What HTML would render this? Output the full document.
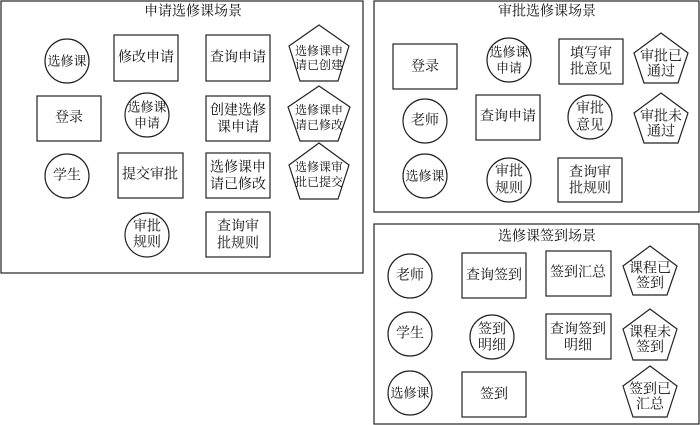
<!DOCTYPE html>
<html><head><meta charset="utf-8"><style>
html,body{margin:0;padding:0;background:#fff;}
svg{display:block;}
text{font-family:"Liberation Serif","Noto Serif CJK SC",serif;font-size:14px;fill:#111;text-anchor:middle;dominant-baseline:central;}
.p{font-size:12px;}
.c{font-size:13px;}
rect,circle,polygon{fill:#fff;stroke:#222;stroke-width:1.2;}
</style></head><body>
<svg width="700" height="425" viewBox="0 0 700 425">
<rect x="1" y="1" width="362" height="272"/>
<text x="193" y="12">申请选修课场景</text>
<circle cx="67" cy="61" r="22"/><text class="c" x="67" y="61">选修课</text>
<rect x="114" y="35" width="64" height="46"/><text x="146" y="58">修改申请</text>
<rect x="206" y="35" width="64" height="46"/><text x="238" y="58">查询申请</text>
<polygon points="319,25 349,46 338,81 300,81 289,46"/><text class="p" x="319" y="51">选修课申</text><text class="p" x="319" y="65">请已创建</text>
<rect x="37" y="96" width="64" height="45"/><text x="69" y="118">登录</text>
<circle cx="147" cy="115" r="22"/><text class="c" x="147" y="107">选修课</text><text class="c" x="147" y="123">申请</text>
<rect x="206" y="96" width="64" height="45"/><text x="238" y="111">创建选修</text><text x="238" y="128">课申请</text>
<polygon points="319,86 350,107 338,141 300,141 288,107"/><text class="p" x="319" y="110">选修课申</text><text class="p" x="319" y="125">请已修改</text>
<circle cx="67" cy="176" r="22"/><text x="67" y="176">学生</text>
<rect x="118" y="153" width="65" height="45"/><text x="150" y="175">提交审批</text>
<rect x="206" y="153" width="64" height="45"/><text x="238" y="168">选修课申</text><text x="238" y="185">请已修改</text>
<polygon points="319,143 349,165 338,199 300,199 289,165"/><text class="p" x="319" y="167">选修课审</text><text class="p" x="319" y="182">批已提交</text>
<circle cx="147" cy="235" r="22"/><text x="147" y="227">审批</text><text x="147" y="243">规则</text>
<rect x="206" y="212" width="64" height="45"/><text x="238" y="227">查询审</text><text x="238" y="244">批规则</text>

<rect x="374" y="1" width="325" height="211"/>
<text x="547" y="12">审批选修课场景</text>
<rect x="393" y="44" width="64" height="45"/><text x="425" y="67">登录</text>
<circle cx="509" cy="60" r="22"/><text class="c" x="509" y="52">选修课</text><text class="c" x="509" y="68">申请</text>
<rect x="559" y="39" width="64" height="45"/><text x="591" y="54">填写审</text><text x="591" y="70">批意见</text>
<polygon points="661,33 688,53 678,83 644,83 634,53"/><text x="661" y="57">审批已</text><text x="661" y="72">通过</text>
<circle cx="425" cy="121" r="22"/><text x="425" y="121">老师</text>
<rect x="476" y="95" width="64" height="45"/><text x="508" y="117">查询申请</text>
<circle cx="590" cy="117" r="22"/><text x="590" y="109">审批</text><text x="590" y="126">意见</text>
<polygon points="661,93 688,113 678,143 644,143 634,113"/><text x="661" y="117">审批未</text><text x="661" y="132">通过</text>
<circle cx="425" cy="176" r="22"/><text class="c" x="425" y="176">选修课</text>
<circle cx="509" cy="180" r="22"/><text x="509" y="172">审批</text><text x="509" y="189">规则</text>
<rect x="558" y="158" width="64" height="44"/><text x="590" y="173">查询审</text><text x="590" y="189">批规则</text>

<rect x="374" y="224" width="325" height="200"/>
<text x="547" y="237">选修课签到场景</text>
<circle cx="410" cy="276" r="22"/><text x="410" y="276">老师</text>
<rect x="462" y="253" width="64" height="45"/><text x="494" y="276">查询签到</text>
<rect x="546" y="251" width="65" height="45"/><text x="578" y="273">签到汇总</text>
<polygon points="650,246 677,266 667,295 633,295 623,266"/><text x="650" y="269">课程已</text><text x="650" y="284">签到</text>
<circle cx="410" cy="334" r="22"/><text x="410" y="334">学生</text>
<circle cx="492" cy="337" r="22"/><text x="492" y="330">签到</text><text x="492" y="346">明细</text>
<rect x="546" y="314" width="65" height="45"/><text x="578" y="330">查询签到</text><text x="578" y="346">明细</text>
<polygon points="650,309 677,329 667,360 633,360 623,329"/><text x="650" y="333">课程未</text><text x="650" y="348">签到</text>
<circle cx="410" cy="393" r="22"/><text class="c" x="410" y="393">选修课</text>
<rect x="462" y="372" width="64" height="45"/><text x="494" y="395">签到</text>
<polygon points="650,366 677,386 667,417 633,417 623,386"/><text x="650" y="390">签到已</text><text x="650" y="405">汇总</text>
</svg>
</body></html>
